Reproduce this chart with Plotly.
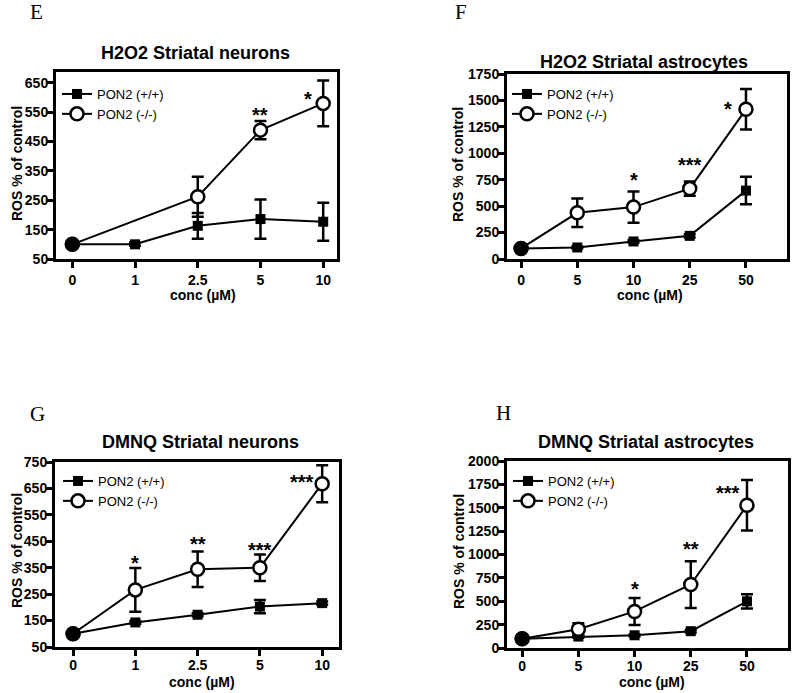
import plotly.graph_objects as go

W, H = 800, 693

# ---------------- data ----------------
conc_neurons = ["0", "1", "2.5", "5", "10"]
conc_astro = ["0", "5", "10", "25", "50"]

# E: H2O2 striatal neurons
e_wt = [100, 100, 163, 186, 177]
e_wt_err = [5, 5, 44, 67, 65]
e_ko = [100, None, 262, 489, 580]
e_ko_err = [5, None, 68, 31, 78]
e_stars = ["", "", "", "**", "*"]

# F: H2O2 striatal astrocytes
f_wt = [100, 109, 166, 219, 647]
f_wt_err = [10, 10, 12, 15, 130]
f_ko = [100, 437, 491, 666, 1416]
f_ko_err = [10, 135, 147, 68, 192]
f_stars = ["", "", "*", "***", "*"]

# G: DMNQ striatal neurons
g_wt = [100, 143, 172, 203, 216]
g_wt_err = [3, 5, 6, 25, 6]
g_ko = [100, 266, 344, 350, 668]
g_ko_err = [3, 83, 67, 50, 70]
g_stars = ["", "*", "**", "***", "***"]

# H: DMNQ striatal astrocytes
h_wt = [100, 122, 136, 180, 499]
h_wt_err = [10, 12, 12, 15, 76]
h_ko = [100, 201, 391, 679, 1526]
h_ko_err = [10, 65, 144, 250, 270]
h_stars = ["", "", "*", "**", "***"]

# ---------------- styles / layout ----------------
SANS = "Liberation Sans, Arial, sans-serif"
SERIF = "Liberation Serif, Times New Roman, serif"


def px_x(p):
    return p / W


def px_y(p):
    return 1 - p / H


panels = [
    dict(letter="E", title="H2O2 Striatal neurons", conc=conc_neurons,
         wt=e_wt, wt_err=e_wt_err, ko=e_ko, ko_err=e_ko_err, stars=e_stars,
         # star placement: (anchor, xshift px, yshift px)
         star_pos=[None, None, None, ("top", 0, 6), ("mid", -15, 4)],
         frame=(56, 337, 72, 259), xr=[-0.26, 4.22], yr=[50, 687],
         yt=list(range(50, 651, 100)), xstand=0,
         letter_xy=(36, 12), title_xy=(195, 53), ytitle_xy=(17, 164), xtitle_xy=(203, 295),
         legend_xy=(57, 79)),
    dict(letter="F", title="H2O2 Striatal astrocytes", conc=conc_astro,
         wt=f_wt, wt_err=f_wt_err, ko=f_ko, ko_err=f_ko_err, stars=f_stars,
         star_pos=[None, None, ("top", 0, 12), ("top", 0, 16), ("mid", -18, 0)],
         frame=(507, 787, 74, 259), xr=[-0.25, 4.73], yr=[0, 1750],
         yt=list(range(0, 1751, 250)), xstand=0,
         letter_xy=(461, 12), title_xy=(644, 62), ytitle_xy=(458, 165), xtitle_xy=(650, 295),
         legend_xy=(507, 79)),
    dict(letter="G", title="DMNQ Striatal neurons", conc=conc_neurons,
         wt=g_wt, wt_err=g_wt_err, ko=g_ko, ko_err=g_ko_err, stars=g_stars,
         star_pos=[None, ("top", 0, 5), ("top", 0, 8), ("top", 0, 5), ("mid", -20, 2)],
         frame=(55, 339, 462, 647), xr=[-0.29, 4.27], yr=[50, 750],
         yt=list(range(50, 751, 100)), xstand=-3,
         letter_xy=(37, 414), title_xy=(201, 442), ytitle_xy=(17, 551), xtitle_xy=(202, 682),
         legend_xy=(58, 466)),
    dict(letter="H", title="DMNQ Striatal astrocytes", conc=conc_astro,
         wt=h_wt, wt_err=h_wt_err, ko=h_ko, ko_err=h_ko_err, stars=h_stars,
         star_pos=[None, None, ("top", 0, 9), ("top", 0, 12), ("mid", -19, 12)],
         frame=(507, 788, 461, 648), xr=[-0.27, 4.73], yr=[0, 2000],
         yt=list(range(0, 2001, 250)), xstand=-3,
         letter_xy=(503, 413), title_xy=(646, 442), ytitle_xy=(459, 552), xtitle_xy=(652, 682),
         legend_xy=(508, 466)),
]

fig = go.Figure()
layout = dict(
    width=W, height=H, margin=dict(l=0, r=0, t=0, b=0, autoexpand=False),
    paper_bgcolor="white", plot_bgcolor="white",
    font=dict(family=SANS, color="black"),
    showlegend=True,
)
annotations = []

for i, p in enumerate(panels):
    n = i + 1
    xa = "x" if n == 1 else f"x{n}"
    ya = "y" if n == 1 else f"y{n}"
    leg = "legend" if n == 1 else f"legend{n}"
    l, r, t, b = p["frame"]

    axis_common = dict(
        showline=True, linewidth=3, linecolor="black", mirror=True,
        ticks="outside", ticklen=6, tickwidth=3, tickcolor="black",
        showgrid=False, zeroline=False, automargin=False,
        tickfont=dict(family=SANS, size=14, color="black", weight="bold"),
    )
    layout["xaxis" if n == 1 else f"xaxis{n}"] = dict(
        axis_common, domain=[px_x(l), px_x(r)], anchor=ya,
        type="category", categoryorder="array", categoryarray=p["conc"],
        range=p["xr"], ticklabelstandoff=p["xstand"],
    )
    layout["yaxis" if n == 1 else f"yaxis{n}"] = dict(
        axis_common, domain=[px_y(b), px_y(t)], anchor=xa,
        range=p["yr"], tickvals=p["yt"], ticklabelstandoff=-4,
    )
    lx, ly = p["legend_xy"]
    layout[leg] = dict(
        x=px_x(lx), y=px_y(ly), xanchor="left", yanchor="top",
        xref="paper", yref="paper",
        bgcolor="rgba(0,0,0,0)", borderwidth=0,
        font=dict(family=SANS, size=13, color="black"),
        tracegroupgap=0, itemwidth=30,
    )

    fig.add_trace(go.Scatter(
        x=p["conc"], y=p["wt"], name="PON2 (+/+)", mode="lines+markers",
        xaxis=xa, yaxis=ya, legend=leg,
        line=dict(color="black", width=2),
        marker=dict(symbol="square", size=10, color="black"),
        error_y=dict(type="data", array=p["wt_err"], visible=True,
                     color="black", thickness=2.5, width=6),
    ))
    fig.add_trace(go.Scatter(
        x=p["conc"], y=p["ko"], name="PON2 (-/-)", mode="lines+markers",
        xaxis=xa, yaxis=ya, legend=leg, connectgaps=True,
        line=dict(color="black", width=2),
        marker=dict(symbol="circle", size=13, color="white",
                    line=dict(color="black", width=2.5)),
        error_y=dict(type="data", array=p["ko_err"], visible=True,
                     color="black", thickness=2.5, width=6),
    ))
    # control point (0 µM) drawn as a filled circle, as in the original
    fig.add_trace(go.Scatter(
        x=p["conc"][:1], y=p["ko"][:1], mode="markers", showlegend=False,
        xaxis=xa, yaxis=ya, legend=leg,
        marker=dict(symbol="circle", size=15, color="black"),
        hoverinfo="skip",
    ))

    # significance stars (x given as category index)
    for j, s in enumerate(p["stars"]):
        if not s:
            continue
        anchor, xs, ys = p["star_pos"][j]
        yv = p["ko"][j] + p["ko_err"][j] if anchor == "top" else p["ko"][j]
        annotations.append(dict(
            x=j, y=yv, xref=xa, yref=ya, text=s, showarrow=False,
            xanchor="center", yanchor="middle", xshift=xs, yshift=ys,
            font=dict(family=SANS, size=20, color="black", weight="bold"),
        ))

    # texts
    tx, ty = p["letter_xy"]
    annotations.append(dict(x=px_x(tx), y=px_y(ty), xref="paper", yref="paper",
                            text=p["letter"], showarrow=False,
                            xanchor="center", yanchor="middle",
                            font=dict(family=SERIF, size=21, color="black")))
    tx, ty = p["title_xy"]
    annotations.append(dict(x=px_x(tx), y=px_y(ty), xref="paper", yref="paper",
                            text=p["title"], showarrow=False,
                            xanchor="center", yanchor="middle",
                            font=dict(family=SANS, size=18, color="black", weight="bold")))
    tx, ty = p["ytitle_xy"]
    annotations.append(dict(x=px_x(tx), y=px_y(ty), xref="paper", yref="paper",
                            text="ROS % of control", showarrow=False, textangle=-90,
                            xanchor="center", yanchor="middle",
                            font=dict(family=SANS, size=14, color="black", weight="bold")))
    tx, ty = p["xtitle_xy"]
    annotations.append(dict(x=px_x(tx), y=px_y(ty), xref="paper", yref="paper",
                            text="conc (\u00b5M)", showarrow=False,
                            xanchor="center", yanchor="middle",
                            font=dict(family=SANS, size=14, color="black", weight="bold")))

layout["annotations"] = annotations
fig.update_layout(**layout)
fig.write_html(
    "out.html",
    config={"displayModeBar": False},
    post_script="document.body.style.margin='0';document.body.style.overflow='hidden';",
)
